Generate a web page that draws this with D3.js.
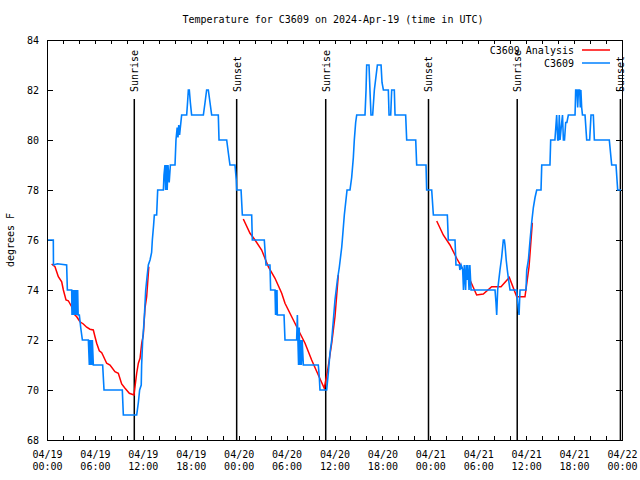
<!DOCTYPE html>
<html><head><meta charset="utf-8">
<script src="https://cdn.jsdelivr.net/npm/d3@7"></script>
<style>
body{margin:0;background:#fff}
svg{display:block}
text{font-family:"DejaVu Sans Mono","Liberation Mono",monospace;font-size:10px;fill:#000}
</style>
</head><body>
<svg id="chart" width="640" height="480"></svg>
<script>
const titleText = "Temperature for C3609 on 2024-Apr-19 (time in UTC)";
const yAxisLabel = "degrees F";
const seriesNames = ["C3609 Analysis", "C3609"];
const yTickValues = [68, 70, 72, 74, 76, 78, 80, 82, 84];
const xLabelHours = [0, 6, 12, 18, 24, 30, 36, 42, 48, 54, 60, 66, 72];
const xMinorHours = d3.range(0, 73, 2);
const sunriseHours = [10.93, 34.9, 58.88];
const sunsetHours = [23.75, 47.77, 71.8];

// observed station temperatures [hours since 2024-04-19 00:00 UTC, degF]
const obsSeries = [[0,76],[0.79,76],[0.81,75],[1.3,75.05],[2.46,75],[2.55,74],[3.09,74],[3.13,73],[3.2,74],[3.26,73],[3.33,74],[3.4,73],[3.47,74],[3.53,73],[3.6,74],[3.66,73],[3.72,74],[3.78,73],[3.84,74],[3.9,73],[4.05,73],[4.22,72.5],[4.43,72],[5.18,72],[5.3,71],[5.38,72],[5.45,71],[5.53,72],[5.6,71],[5.68,72],[5.8,71],[6.97,71],[7.14,70],[9.43,70],[9.56,69],[11.23,69],[11.44,69.5],[11.6,70],[11.8,70.2],[11.85,71],[11.98,72],[12.1,72.5],[12.2,73],[12.36,74],[12.52,74.5],[12.69,75],[12.9,75.2],[13.1,75.5],[13.19,76],[13.35,76.6],[13.44,77],[13.73,77],[13.86,78],[14.57,78],[14.65,78.6],[14.77,79],[14.85,78],[14.95,79],[15.05,78],[15.15,79],[15.3,78.3],[15.45,79],[16.03,79],[16.15,80],[16.3,80.5],[16.4,80.1],[16.5,80.6],[16.6,80.2],[16.86,81],[17.49,81],[17.6,81.5],[17.7,82],[17.82,82],[17.95,81.5],[18.11,81],[19.58,81],[19.79,81.5],[19.99,82],[20.2,82],[20.41,81.5],[20.62,81],[21.45,81],[21.54,80],[22.5,80],[22.7,79.5],[22.91,79],[23.54,79],[23.7,78.4],[23.75,78],[24.3,78],[24.46,77],[25.63,77],[25.71,76],[27.21,76],[27.42,75],[27.92,75],[28.0,74],[28.55,74],[28.62,73],[28.68,74],[28.74,73],[28.8,74],[28.84,73],[29.68,73],[29.8,72],[30.85,72],[31.26,72],[31.35,73],[31.42,72],[31.5,71],[31.58,72.5],[31.66,71],[31.75,72],[31.85,71],[31.95,72],[32.1,71],[33.97,71],[34.1,70.5],[34.18,70],[35.02,70],[35.23,70.7],[35.44,71.5],[35.65,72],[35.86,72.8],[36.06,73.6],[36.36,74.4],[36.6,74.9],[36.75,75.3],[36.9,75.7],[36.98,76],[37.23,77],[37.57,78],[37.94,78],[38.15,78.5],[38.36,79.3],[38.48,80],[38.65,80.7],[38.78,81],[39.82,81],[39.95,82],[40.03,83],[40.32,83],[40.44,82],[40.57,81],[40.78,81],[40.99,82],[41.37,83],[41.83,83],[41.95,82.3],[42.12,82],[42.74,82],[42.83,81],[43.04,81],[43.16,82],[43.49,82],[43.58,81],[44.91,81],[45.04,80],[46.17,80],[46.29,79],[47.46,79],[47.54,78],[48.17,78],[48.38,77],[50.13,77],[50.25,76],[51.09,76],[51.21,75],[51.63,75],[51.7,74.8],[51.85,75],[52.05,74.8],[52.15,74],[52.25,75],[52.42,74],[52.5,75],[52.6,74.4],[52.7,75],[52.85,74],[52.95,75],[53.1,74],[56.1,74],[56.22,73.5],[56.31,73],[56.43,74],[56.72,74.8],[56.93,75.3],[57.14,76],[57.27,76],[57.35,75.8],[57.5,75.2],[57.64,74.8],[57.8,74.4],[57.98,74],[58.81,74],[58.94,73.5],[59.11,73],[59.23,74],[59.98,74],[60.07,74.8],[60.28,75.2],[60.49,76],[60.69,76.7],[60.9,77.3],[61.11,77.7],[61.32,78],[61.86,78],[61.95,79],[62.98,79],[63.07,80],[63.6,80],[63.82,81],[63.95,80],[64.05,80],[64.15,81],[64.24,80],[64.45,80.7],[64.55,81],[64.66,80],[64.8,80],[64.95,80.7],[65.1,80.7],[65.28,81],[66.12,81],[66.2,82],[66.35,82],[66.45,81.3],[66.55,82],[66.7,82],[66.78,81.3],[66.85,82],[66.95,81.3],[67.05,81],[67.37,81],[67.58,80],[67.95,80],[68.12,81],[68.41,81],[68.54,80],[70.41,80],[70.71,79],[71.25,79],[71.46,78],[71.88,78]];

// analysis temperatures (null = gap)
const anaSeries = [[0.58,75.04],[1.0,74.93],[1.42,74.53],[1.84,74.33],[2.05,74.0],[2.38,73.6],[2.67,73.57],[3.09,73.33],[3.3,73.07],[3.72,72.93],[4.13,72.73],[4.55,72.64],[4.97,72.51],[5.38,72.43],[5.8,72.4],[6.01,72.13],[6.22,71.87],[6.55,71.57],[6.85,71.49],[7.05,71.36],[7.47,71.07],[7.89,71.0],[8.51,70.73],[8.93,70.67],[9.35,70.24],[9.77,70.07],[10.31,69.87],[10.89,69.8],[11.02,70.13],[11.23,70.67],[11.44,71.07],[11.65,71.27],[11.86,71.87],[12.06,72.2],[12.27,73.27],[12.48,73.73],[12.75,74.93],
  null,
  [24.58,76.84],[25.42,76.27],[26.05,76.0],[26.88,75.6],[27.71,74.93],[28.55,74.47],[29.39,73.87],[29.8,73.47],[30.64,72.93],[31.47,72.4],[32.31,71.87],[33.14,71.2],[33.97,70.6],[34.72,70.07],[35.15,70.8],[35.65,71.87],[36.06,72.93],[36.48,74.6],
  null,
  [48.8,76.76],[49.62,76.2],[50.46,75.8],[51.3,75.27],[52.13,74.8],[52.97,74.4],[53.8,73.8],[54.63,73.84],[55.68,74.13],[56.85,74.13],[57.89,74.5],[58.82,73.73],[59.85,73.73],[60.36,74.93],[60.77,76.69]];

const colors = {analysis: "#ff0000", obs: "#0080ff"};

const W = 640, H = 480;
const margin = {left: 47, right: 18, top: 40, bottom: 40};
const svg = d3.select("#chart");
const start = Date.UTC(2024, 3, 19);
const toDate = h => new Date(start + h * 3600000);

const x = d3.scaleUtc().domain([toDate(0), toDate(72)]).range([margin.left, W - margin.right]);
const y = d3.scaleLinear().domain([68, 84]).range([H - margin.bottom, margin.top]);
const labelSet = new Set(xLabelHours.map(h => +toDate(h)));
const fmt = d3.utcFormat("%m/%d|%H:%M");

// axes
const gx = svg.append("g").attr("transform", `translate(0,${H - margin.bottom})`)
  .call(d3.axisBottom(x).tickValues(xMinorHours.map(toDate)).tickSize(-4)
    .tickFormat(d => labelSet.has(+d) ? fmt(d) : ""));
gx.selectAll(".tick text").each(function(d) {
  const t = d3.select(this); const s = t.text();
  t.text("").attr("y", null).attr("dy", null);
  if (!s) return;
  const parts = s.split("|");
  t.append("tspan").attr("x", 0).attr("y", 18).text(parts[0]);
  t.append("tspan").attr("x", 0).attr("y", 30).text(parts[1]);
});
svg.append("g").attr("transform", `translate(0,${margin.top})`)
  .call(d3.axisTop(x).tickValues(xMinorHours.map(toDate)).tickSize(-4).tickFormat(""));
svg.append("g").attr("transform", `translate(${margin.left},0)`)
  .call(d3.axisLeft(y).tickValues(yTickValues).tickSize(-6).tickPadding(8).tickFormat(d3.format("d")));
svg.append("g").attr("transform", `translate(${W - margin.right},0)`)
  .call(d3.axisRight(y).tickValues(yTickValues).tickSize(-6).tickFormat(""));
svg.selectAll(".domain").remove();
svg.selectAll(".tick line").attr("stroke", "#000").attr("shape-rendering", "crispEdges");
svg.selectAll(".tick text").style("font-family", '"DejaVu Sans Mono",monospace').style("font-size", "10px").attr("fill", "#000");

// sunrise / sunset lines
const sunEvents = sunriseHours.map(h => ({h, label: "Sunrise"})).concat(sunsetHours.map(h => ({h, label: "Sunset"})));
const sg = svg.append("g");
sunEvents.forEach(e => {
  const xx = x(toDate(e.h));
  sg.append("line").attr("x1", xx).attr("x2", xx).attr("y1", 99).attr("y2", H - margin.bottom)
    .attr("stroke", "#000").attr("stroke-width", 1.5);
  sg.append("text").attr("transform", `translate(${xx + 4},92) rotate(-90)`)
    .attr("text-anchor", "start").text(e.label);
});

// series
const line = d3.line().defined(d => d != null).x(d => x(toDate(d[0]))).y(d => y(d[1]));
svg.append("path").datum(anaSeries).attr("d", line).attr("fill", "none")
  .attr("stroke", colors.analysis).attr("stroke-width", 1.5);
svg.append("path").datum(obsSeries).attr("d", line).attr("fill", "none")
  .attr("stroke", colors.obs).attr("stroke-width", 1.6);

// frame
svg.append("rect").attr("x", margin.left).attr("y", margin.top)
  .attr("width", W - margin.left - margin.right).attr("height", H - margin.top - margin.bottom)
  .attr("fill", "none").attr("stroke", "#000").attr("shape-rendering", "crispEdges");

// title and y label
svg.append("text").attr("x", 333).attr("y", 23).attr("text-anchor", "middle").text(titleText);
svg.append("text").attr("transform", "translate(14,240) rotate(-90)").attr("text-anchor", "middle").text(yAxisLabel);

// legend
const leg = svg.append("g");
[colors.analysis, colors.obs].forEach((c, i) => {
  const yy = 50 + i * 13;
  leg.append("text").attr("x", 574).attr("y", yy + 3.5).attr("text-anchor", "end").text(seriesNames[i]);
  leg.append("line").attr("x1", 582).attr("x2", 610).attr("y1", yy).attr("y2", yy)
    .attr("stroke", c).attr("stroke-width", 1.5);
});
</script>
</body></html>
